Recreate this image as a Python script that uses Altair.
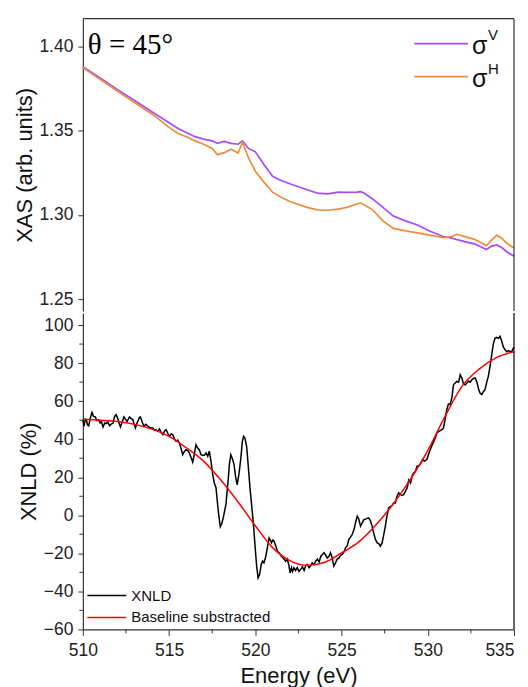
import altair as alt
import pandas as pd

# ---------------- data ----------------
energy_xas = [510, 511, 512, 513, 514, 515, 515.5, 516, 516.5, 517, 517.5, 517.8, 518.2, 518.6,
              519.0, 519.26, 519.6, 520.0, 520.5, 521, 521.5, 522, 523, 523.6, 524.2, 524.8,
              525.3, 525.9, 526.1, 526.3, 526.8, 527.4, 528, 528.7, 529.4, 530.1, 530.9, 531.4,
              531.7, 532.2, 532.7, 533.1, 533.4, 533.7, 534.0, 534.3, 534.6, 535]
sigma_v = [1.3880, 1.3813, 1.3746, 1.3680, 1.3613, 1.3548, 1.3515, 1.3490, 1.3465, 1.3450, 1.3440,
           1.3425, 1.3437, 1.3425, 1.3420, 1.3440, 1.3395, 1.3375, 1.3300, 1.3230, 1.3205, 1.3185,
           1.3150, 1.3130, 1.3125, 1.3136, 1.3134, 1.3136, 1.3138, 1.3130, 1.3095, 1.3045, 1.2993,
           1.2965, 1.2940, 1.2905, 1.2872, 1.2862, 1.2853, 1.2840, 1.2828, 1.2810, 1.2795, 1.2815,
           1.2822, 1.2805, 1.2780, 1.2755]
sigma_h = [1.3875, 1.3805, 1.3736, 1.3668, 1.3600, 1.3520, 1.3485, 1.3465, 1.3440, 1.3420, 1.3395,
           1.3358, 1.3370, 1.3390, 1.3368, 1.3432, 1.3340, 1.3260, 1.3195, 1.3135, 1.3105, 1.3080,
           1.3045, 1.3030, 1.3028, 1.3035, 1.3045, 1.3065, 1.3072, 1.3060, 1.3030, 1.2965, 1.2920,
           1.2905, 1.2893, 1.2880, 1.2865, 1.2872, 1.2885, 1.2870, 1.2855, 1.2835, 1.2818, 1.2850,
           1.2880, 1.2860, 1.2830, 1.2804]

xnld_points = [
    (510.00, 50.3), (510.07, 46.8), (510.14, 50.5), (510.20, 50.3), (510.27, 47.5), (510.34, 47.1),
    (510.43, 51.0), (510.53, 54.1), (510.62, 52.0), (510.72, 51.7), (510.81, 49.8), (510.91, 50.2),
    (511.00, 48.6), (511.07, 49.4), (511.17, 46.4), (511.27, 48.5), (511.36, 48.2), (511.45, 49.0),
    (511.55, 47.1), (511.65, 48.0), (511.75, 48.5), (511.84, 52.0), (511.93, 52.9), (512.03, 50.7),
    (512.10, 48.5), (512.18, 46.4), (512.28, 49.0), (512.38, 51.7), (512.47, 50.5), (512.57, 49.4),
    (512.63, 50.5), (512.70, 51.7), (512.80, 50.8), (512.90, 50.3), (512.97, 48.0), (513.05, 45.9),
    (513.14, 48.5), (513.23, 50.3), (513.28, 51.5), (513.34, 51.7), (513.44, 49.0), (513.54, 46.8),
    (513.65, 47.8), (513.77, 46.8), (513.90, 46.0), (514.06, 45.9), (514.15, 44.8), (514.25, 45.0),
    (514.35, 44.2), (514.44, 45.4), (514.54, 43.5), (514.64, 42.4), (514.73, 44.2), (514.83, 45.0),
    (514.93, 43.0), (515.02, 41.5), (515.12, 42.8), (515.21, 42.4), (515.30, 40.5), (515.40, 38.9),
    (515.50, 39.5), (515.60, 38.0), (515.70, 35.0), (515.79, 31.9), (515.88, 33.5), (515.98, 34.5),
    (516.08, 34.0), (516.17, 32.8), (516.27, 30.5), (516.37, 27.9), (516.46, 32.0), (516.56, 37.1),
    (516.65, 35.5), (516.75, 34.5), (516.85, 31.9), (516.95, 31.5), (517.05, 31.5), (517.14, 32.8),
    (517.24, 31.0), (517.33, 33.7), (517.43, 28.4), (517.52, 22.0), (517.62, 17.0), (517.72, 14.5),
    (517.80, 7.0), (517.88, 0.0), (517.97, -6.0), (518.05, -4.5), (518.15, -1.0), (518.30, 6.0),
    (518.42, 18.0), (518.50, 27.0), (518.58, 31.9), (518.68, 29.5), (518.77, 26.5), (518.86, 20.0),
    (518.95, 16.0), (519.06, 22.3), (519.16, 30.0), (519.25, 39.0), (519.32, 41.5), (519.40, 40.5),
    (519.50, 36.0), (519.58, 27.0), (519.70, 13.5), (519.80, 4.0), (519.90, -5.7), (520.00, -18.0),
    (520.08, -27.0), (520.16, -32.9), (520.25, -31.0), (520.34, -26.0), (520.42, -24.0), (520.50, -25.0),
    (520.61, -21.5), (520.72, -16.0), (520.80, -11.9), (520.87, -13.0), (520.94, -14.5), (521.02, -13.0),
    (521.09, -13.6), (521.20, -16.5), (521.29, -19.0), (521.38, -19.7), (521.51, -21.5), (521.62, -22.5),
    (521.76, -24.1), (521.85, -23.0), (521.94, -26.0), (522.02, -30.3), (522.10, -27.5), (522.16, -29.5),
    (522.24, -27.6), (522.33, -29.0), (522.43, -27.5), (522.53, -29.5), (522.63, -28.5), (522.73, -27.0),
    (522.83, -29.0), (522.92, -26.5), (523.02, -25.9), (523.12, -27.5), (523.20, -26.7), (523.30, -25.0),
    (523.40, -26.0), (523.50, -24.1), (523.60, -23.0), (523.70, -24.5), (523.80, -21.5), (523.90, -20.5),
    (523.98, -19.7), (524.08, -21.0), (524.17, -22.4), (524.27, -21.5), (524.36, -19.7), (524.45, -22.0),
    (524.55, -26.7), (524.65, -25.0), (524.75, -23.0), (524.85, -22.5), (524.94, -21.0), (525.04, -20.6),
    (525.13, -19.5), (525.23, -17.1), (525.33, -16.0), (525.43, -12.5), (525.52, -11.5), (525.62, -10.1),
    (525.72, -7.5), (525.82, -3.5), (525.91, -0.5), (526.00, -2.0), (526.10, -5.7), (526.20, -4.0),
    (526.29, -2.3), (526.40, -2.0), (526.50, -1.5), (526.58, -1.4), (526.68, -3.0), (526.77, -5.7),
    (526.87, -9.5), (526.97, -12.8), (527.07, -14.5), (527.17, -15.0), (527.25, -16.2), (527.35, -14.5),
    (527.45, -10.0), (527.54, -5.7), (527.63, -0.5), (527.73, 3.9), (527.82, 4.5), (527.92, 5.0),
    (528.02, 6.5), (528.12, 6.5), (528.22, 10.0), (528.31, 11.8), (528.40, 11.0), (528.50, 10.5),
    (528.60, 10.9), (528.70, 12.5), (528.80, 14.4), (528.90, 18.5), (529.00, 17.0), (529.10, 21.0),
    (529.18, 22.3), (529.28, 23.0), (529.38, 25.8), (529.48, 26.0), (529.58, 27.0), (529.70, 29.3),
    (529.80, 28.5), (529.95, 29.3), (530.04, 32.0), (530.14, 34.5), (530.23, 36.5), (530.33, 38.5),
    (530.43, 40.5), (530.53, 43.3), (530.62, 44.0), (530.72, 44.5), (530.82, 45.0), (530.91, 45.9),
    (531.00, 50.0), (531.10, 55.5), (531.20, 58.5), (531.30, 58.2), (531.40, 62.0), (531.49, 68.6),
    (531.59, 69.5), (531.69, 70.4), (531.79, 70.0), (531.88, 73.9), (531.98, 72.0), (532.07, 69.0),
    (532.17, 68.6), (532.27, 69.5), (532.37, 70.5), (532.46, 70.0), (532.56, 71.3), (532.65, 72.0),
    (532.75, 72.2), (532.85, 70.0), (532.94, 66.5), (533.03, 64.3), (533.13, 63.5), (533.22, 65.0),
    (533.32, 66.0), (533.42, 70.0), (533.51, 73.0), (533.61, 78.3), (533.70, 84.0), (533.80, 90.0),
    (533.90, 93.2), (534.00, 93.5), (534.10, 93.0), (534.19, 94.1), (534.29, 91.5), (534.38, 88.5),
    (534.48, 87.0), (534.58, 86.0), (534.67, 86.5), (534.77, 86.2), (534.87, 86.0), (534.96, 87.9),
    (535.00, 87.5),
]
energy_xnld = [p[0] for p in xnld_points]
xnld = [p[1] for p in xnld_points]

energy_base = [510, 511, 512, 513, 514, 515, 516, 517, 518, 519, 520, 521, 522, 523, 524, 525,
               526, 527, 528, 529, 530, 531, 532, 533, 534, 535]
baseline = [50.5, 50.0, 49.3, 47.8, 45.3, 41.5, 35.5, 28.5, 18.5, 7.0, -5.5, -17.0, -23.8, -26.3,
            -24.8, -19.8, -14.0, -5.0, 6.0, 19.0, 34.0, 52.0, 68.0, 77.0, 83.0, 86.0]

x_major = [510, 515, 520, 525, 530, 535]
x_minor = [512.5, 517.5, 522.5, 527.5, 532.5]
y_top_ticks = [1.25, 1.30, 1.35, 1.40]
y_bot_ticks = [-60, -40, -20, 0, 20, 40, 60, 80, 100]
y_bot_minor = [-50, -30, -10, 10, 30, 50, 70, 90]

series_names = ["σV", "σH"]
series_colors = ["#a54cff", "#f28c3c"]

# ---------------- layout ----------------
W = 432
H_TOP = 293
H_BOT = 317
FRAME = "#333333"
FONT = "Liberation Sans"

x_scale = alt.Scale(domain=[510, 535], nice=False, zero=False)

xas_df = pd.DataFrame({
    "Energy": energy_xas * 2,
    "XAS": sigma_v + sigma_h,
    "series": [series_names[0]] * len(energy_xas) + [series_names[1]] * len(energy_xas),
    "order": list(range(len(energy_xas))) * 2,
})

top_lines = alt.Chart(xas_df).mark_line(strokeWidth=1.7).encode(
    x=alt.X("Energy:Q", scale=x_scale, axis=None),
    y=alt.Y("XAS:Q", scale=alt.Scale(domain=[1.2429, 1.4166], nice=False, zero=False),
            axis=alt.Axis(values=y_top_ticks, format=".2f", title="XAS (arb. units)",
                          tickSize=5, labelPadding=5, titlePadding=2, labelOverlap=False,
                          labelFlush=False)),
    color=alt.Color("series:N", scale=alt.Scale(domain=series_names, range=series_colors), legend=None),
    order="order:Q",
)

one = pd.DataFrame({"a": [0]})
top_frame = alt.Chart(one).mark_rule(color=FRAME, strokeWidth=1.2).encode(
    x=alt.value(0), x2=alt.value(W), y=alt.value(0))
right_frame_top = alt.Chart(one).mark_rule(color=FRAME, strokeWidth=1.2).encode(
    x=alt.value(W), y=alt.value(0), y2=alt.value(H_TOP))

leg_v = alt.Chart(one).mark_rule(color=series_colors[0], strokeWidth=1.7).encode(
    x=alt.value(332), x2=alt.value(386), y=alt.value(25))
leg_h = alt.Chart(one).mark_rule(color=series_colors[1], strokeWidth=1.7).encode(
    x=alt.value(332), x2=alt.value(386), y=alt.value(58))
sig_v = alt.Chart(one).mark_text(text="σ", align="left", baseline="middle", fontSize=25,
                                 font=FONT, color="#111").encode(x=alt.value(390), y=alt.value(27))
sup_v = alt.Chart(one).mark_text(text="V", align="left", baseline="middle", fontSize=15,
                                 font=FONT, color="#111").encode(x=alt.value(406), y=alt.value(16))
sig_h = alt.Chart(one).mark_text(text="σ", align="left", baseline="middle", fontSize=25,
                                 font=FONT, color="#111").encode(x=alt.value(390), y=alt.value(60))
sup_h = alt.Chart(one).mark_text(text="H", align="left", baseline="middle", fontSize=15,
                                 font=FONT, color="#111").encode(x=alt.value(406), y=alt.value(50))
theta = alt.Chart(one).mark_text(text="θ = 45°", align="left", baseline="alphabetic", fontSize=29,
                                 font="Liberation Serif", color="#000").encode(
    x=alt.value(5), y=alt.value(35))

top = alt.layer(top_lines, top_frame, right_frame_top, leg_v, leg_h, sig_v, sup_v, sig_h, sup_h,
                theta).properties(width=W, height=H_TOP)

# bottom panel
xnld_df = pd.DataFrame({"Energy": energy_xnld, "XNLD": xnld})
base_df = pd.DataFrame({"Energy": energy_base, "XNLD": baseline})
y_bot_scale = alt.Scale(domain=[-60, 106.3], nice=False, zero=False)

x_bot_axis = alt.Axis(values=x_major, format="d", title="Energy (eV)", tickSize=6,
                      labelPadding=6, titlePadding=7, labelOverlap=False, labelFlush=False,
                      labelAlign={"expr": "datum.value >= 535 ? 'right' : 'center'"})
y_bot_axis = alt.Axis(values=y_bot_ticks, format="d", title="XNLD (%)", tickSize=5,
                      labelPadding=5, titlePadding=3, labelOverlap=False, labelFlush=False)

xnld_line = alt.Chart(xnld_df).mark_line(color="#000000", strokeWidth=1.5).encode(
    x=alt.X("Energy:Q", scale=x_scale, axis=x_bot_axis),
    y=alt.Y("XNLD:Q", scale=y_bot_scale, axis=y_bot_axis),
)
base_line = alt.Chart(base_df).mark_line(color="#ff0000", strokeWidth=1.5, interpolate="monotone").encode(
    x=alt.X("Energy:Q", scale=x_scale, axis=x_bot_axis),
    y=alt.Y("XNLD:Q", scale=y_bot_scale, axis=y_bot_axis))

xminor_df = pd.DataFrame({"Energy": x_minor})
x_minor_ticks = alt.Chart(xminor_df).mark_rule(color=FRAME, strokeWidth=1).encode(
    x=alt.X("Energy:Q", scale=x_scale, axis=x_bot_axis), y=alt.value(H_BOT), y2=alt.value(H_BOT + 4))
yminor_df = pd.DataFrame({"XNLD": y_bot_minor})
y_minor_ticks = alt.Chart(yminor_df).mark_rule(color=FRAME, strokeWidth=1).encode(
    y=alt.Y("XNLD:Q", scale=y_bot_scale, axis=y_bot_axis), x=alt.value(-3.5), x2=alt.value(0))
right_frame_bot = alt.Chart(one).mark_rule(color="#000", strokeWidth=1.2).encode(
    x=alt.value(W), y=alt.value(0), y2=alt.value(H_BOT))

leg_k = alt.Chart(one).mark_rule(color="#000", strokeWidth=1.5).encode(
    x=alt.value(4.5), x2=alt.value(43.5), y=alt.value(283))
leg_r = alt.Chart(one).mark_rule(color="#ff0000", strokeWidth=1.5).encode(
    x=alt.value(4.5), x2=alt.value(43.5), y=alt.value(305))
txt_k = alt.Chart(one).mark_text(text="XNLD", align="left", baseline="middle", fontSize=15,
                                 font=FONT, color="#111").encode(x=alt.value(48.5), y=alt.value(283))
txt_r = alt.Chart(one).mark_text(text="Baseline substracted", align="left", baseline="middle",
                                 fontSize=15, font=FONT, color="#111").encode(
    x=alt.value(48.5), y=alt.value(305))

bottom = alt.layer(xnld_line, base_line, x_minor_ticks, y_minor_ticks, right_frame_bot,
                   leg_k, leg_r, txt_k, txt_r).properties(width=W, height=H_BOT)

chart = alt.vconcat(top, bottom, spacing=0).properties(
    padding={"left": 5, "top": 9, "right": 2, "bottom": 0}
).configure_view(stroke=None).configure_axis(
    grid=False,
    domainColor=FRAME,
    domainWidth=1.2,
    tickColor=FRAME,
    tickWidth=1,
    labelColor="#222222",
    titleColor="#111111",
    labelFont=FONT,
    titleFont=FONT,
    labelFontSize=17.5,
    titleFontSize=22,
    titleFontWeight="normal",
).configure_concat(spacing=0)

chart.save("out.html", embed_options={"renderer": "svg", "actions": False})
